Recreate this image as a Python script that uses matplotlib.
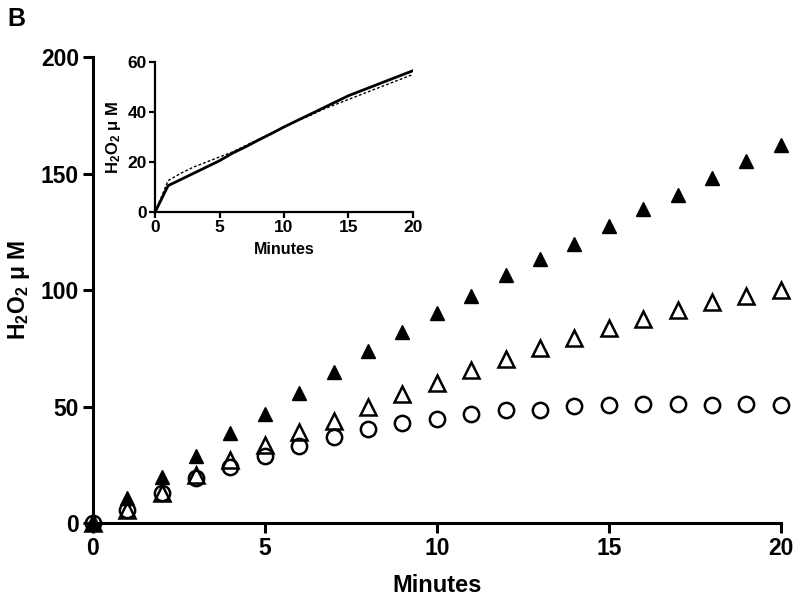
import matplotlib
matplotlib.use('Agg')
import matplotlib.pyplot as plt
import numpy as np

plt.rcParams['font.family'] = ['Liberation Sans', 'DejaVu Sans']
plt.rcParams['font.weight'] = 'bold'
plt.rcParams['mathtext.fontset'] = 'custom'
plt.rcParams['mathtext.rm'] = 'Liberation Sans:bold'
plt.rcParams['mathtext.bf'] = 'Liberation Sans:bold'
plt.rcParams['mathtext.default'] = 'bf'

# main panel data
minutes = np.arange(0, 21)
filled_tri = [0, 10.7, 19.7, 28.7, 38.6, 47, 55.7, 64.7, 73.8, 81.9, 90.1, 97.3,
              106.6, 113.4, 119.9, 127.7, 134.9, 141, 148, 155.6, 162.4]
open_tri = [0, 5.6, 13, 20.6, 27, 33.4, 39, 44, 50, 55.4, 60.2, 65.9,
            70.6, 75.3, 79.6, 83.9, 87.7, 91.7, 94.9, 97.5, 100.2]
open_circ = [0, 5.5, 12.8, 19.3, 24, 28.7, 33, 36.9, 40.3, 42.9, 44.8, 46.7,
             48.4, 48.7, 50.1, 50.6, 51, 51, 50.8, 51, 50.6]

# inset data
inset_solid = [0, 10.5, 13, 15.5, 18, 20.5, 23.5, 26, 28.7, 31.3, 34, 36.5,
               39, 41.5, 44, 46.5, 48.5, 50.5, 52.5, 54.5, 56.5]
inset_dotted = [0, 12.5, 15.5, 18, 20, 22, 24, 26.5, 29, 31.5, 34, 36.5,
                38.5, 41, 43, 45, 47, 49, 51, 53, 55]

ylab = 'H$_2$O$_2$ \u03bc M'

fig = plt.figure(figsize=(8, 6.02), dpi=100)
ax = fig.add_axes([0.116, 0.131, 0.86, 0.774])
ax.plot(minutes, filled_tri, '^', color='black', ms=10.5, clip_on=False, zorder=3)
ax.plot(minutes, open_tri, '^', mfc='none', mec='black', ms=11, mew=1.8, clip_on=False, zorder=3)
ax.plot(minutes, open_circ, 'o', mfc='none', mec='black', ms=11, mew=1.8, clip_on=False, zorder=3)
ax.set_xlim(0, 20)
ax.set_ylim(0, 200)
ax.set_xticks([0, 5, 10, 15, 20])
ax.set_yticks([0, 50, 100, 150, 200])
for s in ['top', 'right']:
    ax.spines[s].set_visible(False)
for s in ['left', 'bottom']:
    ax.spines[s].set_linewidth(2.2)
ax.tick_params(width=2.2, length=7, labelsize=16.5, pad=3)
ax.set_xlabel('Minutes', fontsize=17, fontweight='bold', labelpad=10)
ax.set_ylabel(ylab, fontsize=16.5, fontweight='bold', labelpad=6)
fig.text(0.009, 0.988, 'B', fontsize=18, fontweight='bold', va='top', ha='left')

# inset
ins = fig.add_axes([0.194, 0.648, 0.322, 0.249])
ins.plot(minutes, inset_solid, '-', color='black', lw=2)
ins.plot(minutes, inset_dotted, linestyle=(0, (2, 1.5)), color='black', lw=1)
ins.set_xlim(0, 20)
ins.set_ylim(0, 60)
ins.set_xticks([0, 5, 10, 15, 20])
ins.set_yticks([0, 20, 40, 60])
for s in ['top', 'right']:
    ins.spines[s].set_visible(False)
for s in ['left', 'bottom']:
    ins.spines[s].set_linewidth(1.6)
ins.tick_params(width=1.6, length=4, labelsize=12.5, pad=2)
ins.set_xlabel('Minutes', fontsize=11.5, fontweight='bold', labelpad=5)
ins.set_ylabel(ylab, fontsize=12, fontweight='bold', labelpad=3)

fig.savefig('out.png', dpi=100)
